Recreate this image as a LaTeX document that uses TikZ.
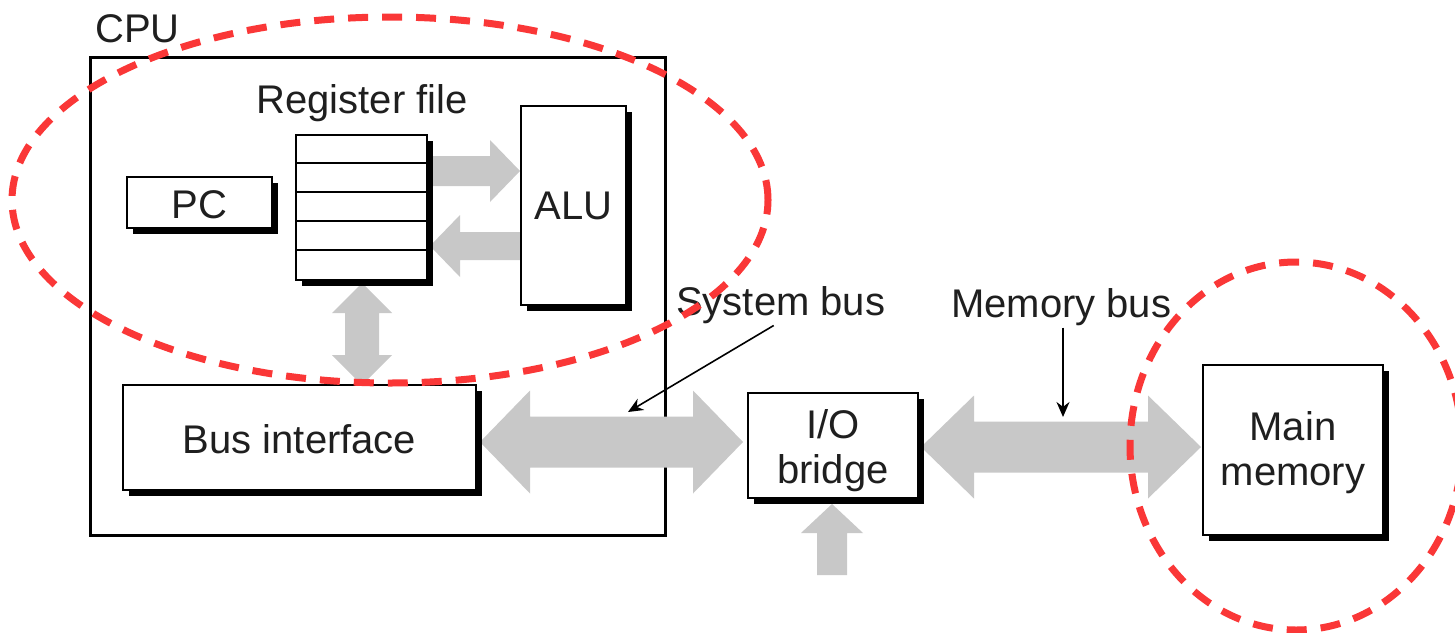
\documentclass[tikz,border=0pt]{standalone}
\usepackage{fontspec}
\setmainfont{Liberation Sans}
\usetikzlibrary{shadows,arrows.meta,calc}
\definecolor{busgray}{RGB}{200,200,200}
\definecolor{hlred}{RGB}{250,55,55}
% horizontal double block arrow: x1, x2, y, shaft half, head half, head length
\newcommand\BusDbl[6]{\fill[bus] (#1,#3) -- ({#1+#6},{#3-#5}) -- ({#1+#6},{#3-#4}) -- ({#2-#6},{#3-#4}) -- ({#2-#6},{#3-#5}) -- (#2,#3) -- ({#2-#6},{#3+#5}) -- ({#2-#6},{#3+#4}) -- ({#1+#6},{#3+#4}) -- ({#1+#6},{#3+#5}) -- cycle;}
% vertical double block arrow: x, y1, y2, shaft half, head half, head length
\newcommand\BusDblV[6]{\fill[bus] (#1,#2) -- ({#1-#5},{#2+#6}) -- ({#1-#4},{#2+#6}) -- ({#1-#4},{#3-#6}) -- ({#1-#5},{#3-#6}) -- (#1,#3) -- ({#1+#5},{#3-#6}) -- ({#1+#4},{#3-#6}) -- ({#1+#4},{#2+#6}) -- ({#1+#5},{#2+#6}) -- cycle;}
\begin{document}
\begin{tikzpicture}[x=1pt,y=-1pt,
  box/.style={draw=black, line width=1.6pt, fill=white, inner sep=0pt,
    drop shadow={shadow xshift=6pt, shadow yshift=-6pt, fill=black, opacity=1}},
  lbl/.style={font=\fontsize{40}{45}\selectfont, text=black!88, inner sep=0pt},
  bus/.style={fill=busgray},
  ptr/.style={line width=1.6pt, -{Stealth[length=15pt,width=13pt]}},
  hl/.style={draw=hlred, line width=7pt, dash pattern=on 20pt off 14pt}]

\useasboundingbox (0,0) rectangle (1455,632);
\fill[white] (0,0) rectangle (1455,632);

% CPU frame
\node[draw=black, line width=3pt, minimum width=575pt, minimum height=478pt] (cpu) at (377.5,296) {};
\node[lbl, anchor=base west] (cpulbl) at (95,42) {CPU};

% gray block arrows
\fill[bus] (432,156) -- (490,156) -- (490,140) -- (520,171) -- (490,202) -- (490,186) -- (432,186) -- cycle;
\fill[bus] (430,246) -- (460,215) -- (460,232) -- (520,232) -- (520,260) -- (460,260) -- (460,277) -- cycle;
\BusDblV{362}{283}{385}{17}{30}{30}
\BusDbl{480}{743}{442}{25.5}{51.5}{50}
\BusDbl{921}{1201}{447}{25.5}{51.5}{53}
\fill[bus] (832,504) -- (863,533) -- (847,533) -- (847,575) -- (817,575) -- (817,533) -- (801,533) -- cycle;

% boxes
\node[box, minimum width=145pt, minimum height=51pt] (pc) at (199.5,202.5) {};
\node[lbl] at ($(pc)+(0,2)$) {PC};
\node[box, minimum width=131pt, minimum height=145pt] (reg) at (361.5,207.5) {};
\foreach \i in {1,2,3,4}
  \draw[line width=1.6pt] ($(reg.north west)+(0,29*\i)$) -- ($(reg.north east)+(0,29*\i)$);
\node[lbl, anchor=base] (reglbl) at (362,113) {Register file};
\node[box, minimum width=105pt, minimum height=199pt] (alu) at (573.5,205.5) {};
\node[lbl] at (alu) {ALU};
\node[box, minimum width=353pt, minimum height=105pt] (bi) at (299.5,437.5) {};
\node[lbl] at ($(bi)+(0,2)$) {Bus interface};
\node[box, minimum width=170pt, minimum height=105pt] (io) at (833,445.5) {};
\node[lbl, align=center] at ($(io)+(0,5)$) {I/O\\bridge};
\node[box, minimum width=180pt, minimum height=170pt] (mm) at (1293,450) {};
\node[lbl, align=center] at ($(mm)+(0,3)$) {Main\\memory};

% bus labels and pointers
\node[lbl, anchor=base west] (sblbl) at (676,315) {System bus};
\node[lbl, anchor=base west] (mblbl) at (951,317) {Memory bus};
\coordinate (sbtip) at (628,412);
\coordinate (mbtip) at (1063,417);
\draw[ptr] ($(sblbl.south)+(-7,2)$) -- (sbtip);
\draw[ptr, shorten <=2pt] (mblbl.south -| mbtip) -- (mbtip);

% red highlight ellipses
\draw[hl] (390,200) ellipse [x radius=378pt, y radius=183pt];
\draw[hl] (1296,446) ellipse [x radius=166pt, y radius=184pt];
\end{tikzpicture}
\end{document}
